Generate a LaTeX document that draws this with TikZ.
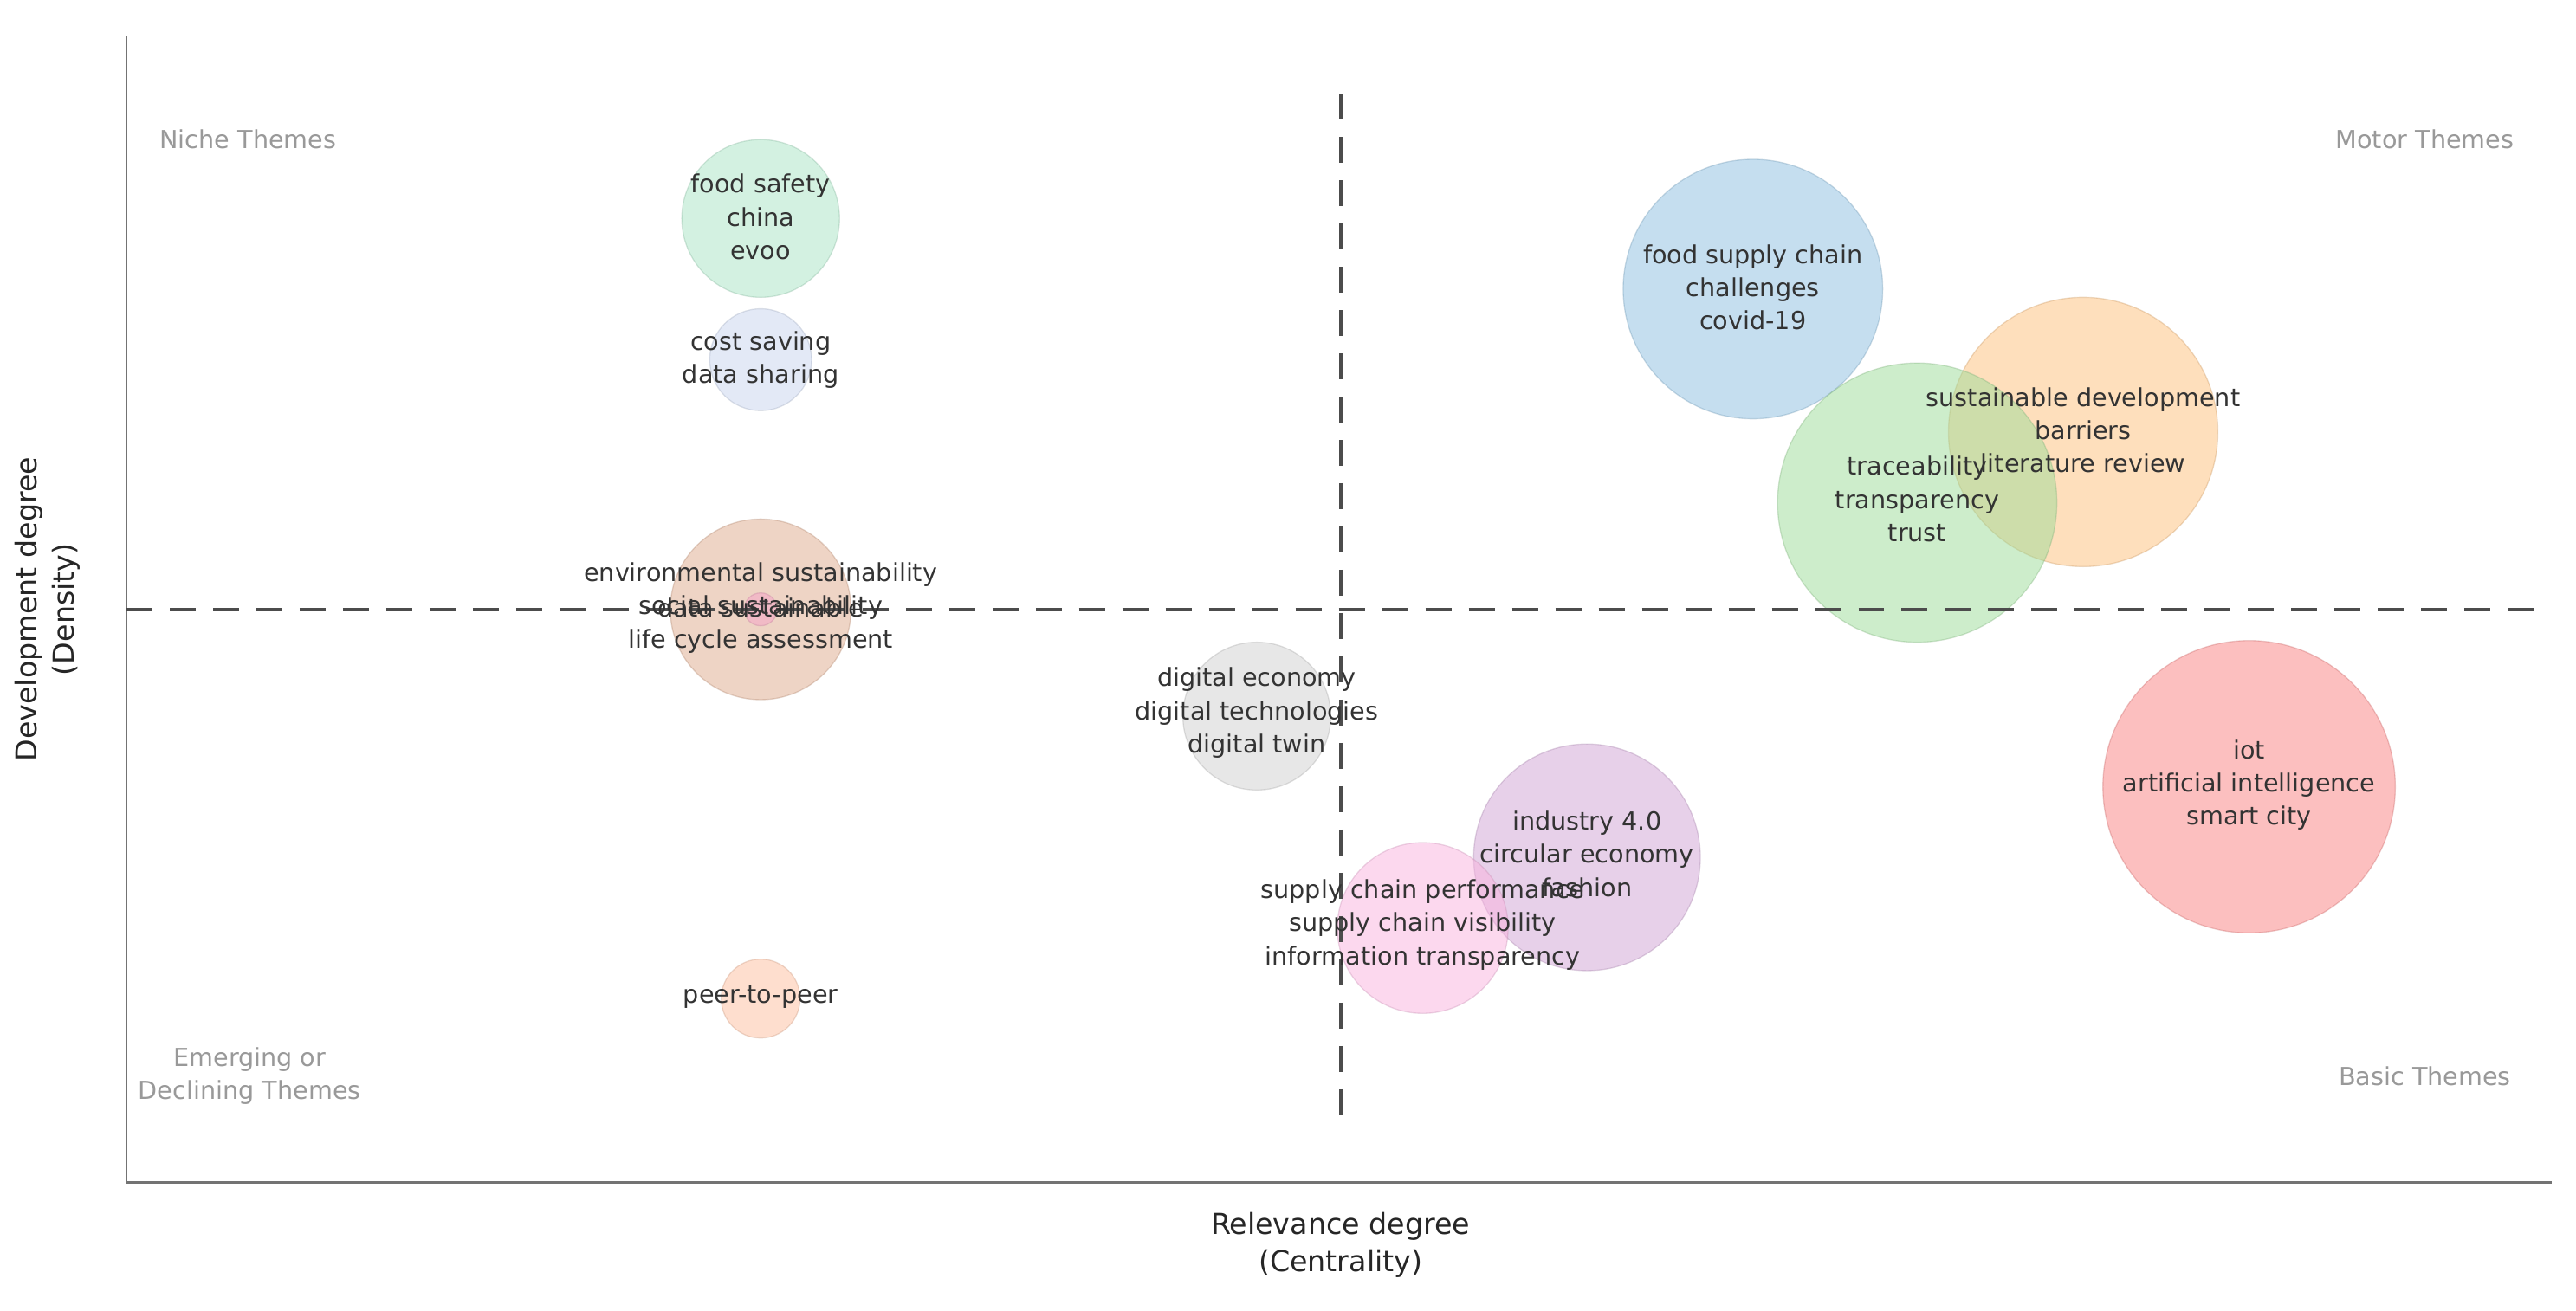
\documentclass[tikz,border=0pt]{standalone}
\usepackage{fontspec}
\setmainfont{DejaVu Sans}
\begin{document}
\begin{tikzpicture}[x=0.02cm,y=-0.02cm,
 bub/.style={circle,draw=#1!80!black,draw opacity=0.35,fill=#1,fill opacity=0.5,inner sep=0pt},
 lbl/.style={align=center,font=\fontsize{8.6}{11.5}\selectfont,text=black!80},
 corner/.style={align=center,font=\fontsize{8.6}{11.5}\selectfont,text=black!40},
 axl/.style={align=center,font=\fontsize{10}{13}\selectfont,text=black!85},
 quad/.style={dash pattern=on 9pt off 6pt,line width=1.1pt,black!70}]
\useasboundingbox (0,0) rectangle (1568,798);
\definecolor{cgreen}{HTML}{A8E4C4}
\definecolor{clav}{HTML}{C8D4EE}
\definecolor{cbrown}{HTML}{DDA98B}
\definecolor{cpink}{HTML}{F5A0C8}
\definecolor{cpeach}{HTML}{FDBE9E}
\definecolor{cgray}{HTML}{D0D0D0}
\definecolor{cblue}{HTML}{8CBEE0}
\definecolor{corange}{HTML}{FDBF7A}
\definecolor{cgreen2}{HTML}{9CDC98}
\definecolor{cred}{HTML}{FA8080}
\definecolor{cpurple}{HTML}{CFA2D4}
\definecolor{cpink2}{HTML}{F9B2DE}
% axes
\coordinate (o) at (77,720); \coordinate (yt) at (77,22); \coordinate (xr) at (1553,720);
\draw[black!55,line width=0.8pt] (yt) -- (o) -- (xr);
% bubbles
\node[bub=cgreen,minimum size=1.92cm] (b1) at (463,133) {};
\node[bub=clav,minimum size=1.24cm] (b2) at (463,219) {};
\node[bub=cbrown,minimum size=2.2cm] (b3) at (463,371) {};
\node[bub=cpink,minimum size=0.4cm] (b4) at (463,371) {};
\node[bub=cpeach,minimum size=0.96cm] (b5) at (463,608) {};
\node[bub=cgray,minimum size=1.8cm] (b6) at (765,436) {};
\node[bub=cblue,minimum size=3.16cm] (b7) at (1067,176) {};
\node[bub=corange,minimum size=3.28cm] (b8) at (1268,263) {};
\node[bub=cgreen2,minimum size=3.4cm] (b9) at (1167,306) {};
\node[bub=cred,minimum size=3.56cm] (b10) at (1369,479) {};
\node[bub=cpurple,minimum size=2.76cm] (b11) at (966,522) {};
\node[bub=cpink2,minimum size=2.08cm] (b12) at (866,565) {};
% dashed lines
\coordinate (vt) at (816,57); \coordinate (vb) at (816,688);
\coordinate (hl) at (77,371); \coordinate (hr) at (1548,371);
\draw[quad] (vt) -- (vb);
\draw[quad] (hl) -- (hr);
% labels
\node[lbl] (t1) at (463,132) {food safety\\china\\evoo};
\node[lbl] (t2) at (463,219) {cost saving\\data sharing};
\node[lbl] (t3) at (463,370) {environmental sustainability\\social sustainability\\life cycle assessment};
\node[lbl] (t4) at (463,370) {data sustainable};
\node[lbl] (t5) at (463,607) {peer-to-peer};
\node[lbl] (t6) at (765,434) {digital economy\\digital technologies\\digital twin};
\node[lbl] (t7) at (1067,175) {food supply chain\\challenges\\covid-19};
\node[lbl] (t8) at (1268,262) {sustainable development\\barriers\\literature review};
\node[lbl] (t9) at (1167,304) {traceability\\transparency\\trust};
\node[lbl] (t10) at (1369,478) {iot\\artificial intelligence\\smart city};
\node[lbl] (t11) at (966,520) {industry 4.0\\circular economy\\fashion};
\node[lbl] (t12) at (866,563) {supply chain performance\\supply chain visibility\\information transparency};
% corners
\node[corner] (c1) at (151,85) {Niche Themes};
\node[corner] (c2) at (1476,85) {Motor Themes};
\node[corner] (c3) at (152,655) {Emerging or\\Declining Themes};
\node[corner] (c4) at (1476,655) {Basic Themes};
% axis labels
\node[axl] (xl) at (816,758) {Relevance degree\\(Centrality)};
\node[axl,rotate=90] (yl) at (29,371) {Development degree\\(Density)};
\end{tikzpicture}
\end{document}
